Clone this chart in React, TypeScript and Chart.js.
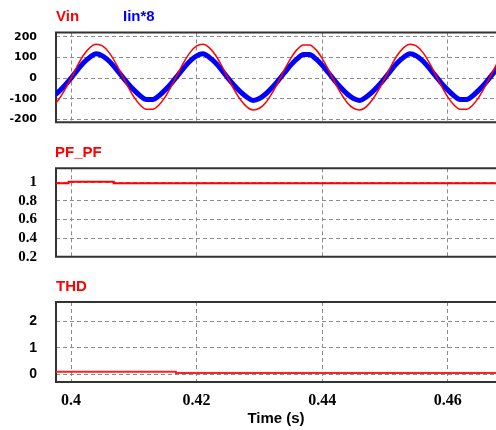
import React, { useEffect, useRef } from 'react';
import { Chart, registerables } from 'chart.js';

Chart.register(...registerables);

// ---- data ----
const time = [
  0.397, 0.398, 0.399, 0.4, 0.401, 0.402, 0.403, 0.404, 0.405, 0.406, 0.407, 0.408,
  0.409, 0.41, 0.411, 0.412, 0.413, 0.414, 0.415, 0.416, 0.417, 0.418, 0.419, 0.42,
  0.421, 0.422, 0.423, 0.424, 0.425, 0.426, 0.427, 0.428, 0.429, 0.43, 0.431, 0.432,
  0.433, 0.434, 0.435, 0.436, 0.437, 0.438, 0.439, 0.44, 0.441, 0.442, 0.443, 0.444,
  0.445, 0.446, 0.447, 0.448, 0.449, 0.45, 0.451, 0.452, 0.453, 0.454, 0.455, 0.456,
  0.457, 0.458, 0.459, 0.46, 0.461, 0.462, 0.463, 0.464, 0.465, 0.466, 0.467, 0.468,
];
const vin = [
  -139, -105, -57, 0, 60, 112, 148, 164, 156, 126, 79, 21,
  -38, -91, -130, -151, -151, -130, -91, -38, 21, 79, 126, 156,
  164, 148, 112, 60, 0, -57, -105, -139, -154, -146, -119, -74,
  -19, 41, 96, 138, 161, 161, 138, 96, 41, -19, -74, -119,
  -146, -154, -139, -105, -57, 0, 60, 112, 148, 164, 156, 126,
  79, 21, -38, -91, -130, -151, -151, -130, -91, -38, 21, 79,
];
const iin8 = [
  -92, -67, -36, 0, 39, 74, 101, 118, 108, 84, 51, 13,
  -24, -57, -85, -104, -104, -85, -57, -24, 13, 51, 84, 108,
  118, 101, 74, 39, 0, -36, -67, -92, -108, -99, -77, -47,
  -12, 26, 63, 93, 114, 114, 93, 63, 26, -12, -47, -77,
  -99, -108, -92, -67, -36, 0, 39, 74, 101, 118, 108, 84,
  51, 13, -24, -57, -85, -104, -104, -85, -57, -24, 13, 51,
];
const pfTime = [0.3976, 0.3996, 0.4068, 0.4677];
const pfValues = [0.99, 1.005, 0.99, 0.99];
const thdTime = [0.3976, 0.4167, 0.4677];
const thdValues = [0.1, 0.05, 0.05];

const xTicks = [0.4, 0.42, 0.44, 0.46];
const xTickLabels = ['0.4', '0.42', '0.44', '0.46'];
const vTicks = [-200, -100, 0, 100, 200];
const pfTicks = [0.2, 0.4, 0.6, 0.8, 1];
const pfTickLabels = ['0.2', '0.4', '0.6', '0.8', '1'];
const thdTicks = [0, 0.5, 1, 1.5, 2, 2.5];
const thdTickLabels = ['0', '', '1', '', '2', ''];

const X_MIN = 0.3976;
const X_MAX = 0.4677;
const W = 496;
const GRID = '#8c8c8c';

const framePlugin = {
  id: 'frame',
  beforeDatasetsDraw(chart: any) {
    const { ctx, chartArea: a } = chart;
    ctx.save();
    ctx.strokeStyle = '#333333';
    ctx.lineWidth = 2;
    ctx.beginPath();
    ctx.moveTo(a.right + 2, a.top);
    ctx.lineTo(a.left, a.top);
    ctx.lineTo(a.left, a.bottom);
    ctx.lineTo(a.right + 2, a.bottom);
    ctx.stroke();
    ctx.restore();
  },
};

type Panel = {
  height: number;
  padTop: number;
  padBottom: number;
  xHeight: number;
  showX: boolean;
  yMin: number;
  yMax: number;
  yTicks: number[];
  yLabels: string[];
  yFont: any;
  datasets: any[];
};

function buildConfig(p: Panel): any {
  return {
    type: 'line',
    data: { datasets: p.datasets },
    options: {
      animation: false,
      responsive: false,
      maintainAspectRatio: false,
      devicePixelRatio: 1,
      layout: { padding: { top: p.padTop, bottom: p.padBottom, left: 0, right: 0 } },
      plugins: { legend: { display: false }, tooltip: { enabled: false }, title: { display: false } },
      elements: { point: { radius: 0 } },
      scales: {
        x: {
          type: 'linear',
          min: X_MIN,
          max: X_MAX,
          afterBuildTicks: (s: any) => {
            s.ticks = xTicks.map((v) => ({ value: v }));
          },
          afterFit: (s: any) => {
            s.height = p.xHeight;
          },
          grid: { color: GRID, lineWidth: 1, drawTicks: false },
          border: { display: false, dash: [4, 3] },
          ticks: {
            display: p.showX,
            padding: 9,
            color: '#000',
            font: { family: '"Liberation Serif", serif', size: 16, weight: 'bold' },
            callback: (_v: any, i: number) => xTickLabels[i],
          },
          title: {
            display: p.showX,
            text: 'Time (s)',
            color: '#000',
            font: { family: '"Liberation Sans", Arial, sans-serif', size: 15, weight: 'bold' },
            padding: { top: 0, bottom: 2 },
          },
        },
        y: {
          type: 'linear',
          min: p.yMin,
          max: p.yMax,
          afterBuildTicks: (s: any) => {
            s.ticks = p.yTicks.map((v) => ({ value: v }));
          },
          afterFit: (s: any) => {
            s.width = 56;
          },
          grid: { color: GRID, lineWidth: 1, drawTicks: false },
          border: { display: false, dash: [4, 3] },
          ticks: {
            padding: 19,
            color: '#000',
            font: p.yFont,
            callback: (_v: any, i: number) => p.yLabels[i],
          },
        },
      },
    },
    plugins: [framePlugin],
  };
}

function ChartCanvas({ panel, top }: { panel: Panel; top: number }) {
  const ref = useRef<HTMLCanvasElement | null>(null);
  useEffect(() => {
    if (!ref.current) return;
    const chart = new Chart(ref.current, buildConfig(panel));
    return () => chart.destroy();
  }, []);
  return (
    <canvas
      ref={ref}
      width={W}
      height={panel.height}
      style={{ position: 'absolute', left: 0, top, width: W, height: panel.height, display: 'block' }}
    />
  );
}

const topPanel: Panel = {
  height: 148,
  padTop: 32.5,
  padBottom: 25.7,
  xHeight: 0,
  showX: false,
  yMin: -214,
  yMax: 221,
  yTicks: vTicks,
  yLabels: vTicks.map(String),
  yFont: { family: '"DejaVu Sans", sans-serif', size: 11, weight: 'bold' },
  datasets: [
    {
      label: 'Vin',
      data: time.map((t, i) => ({ x: t, y: vin[i] })),
      borderColor: '#ff0000',
      borderWidth: 1.5,
      cubicInterpolationMode: 'monotone',
      fill: false,
    },
    {
      label: 'Iin*8',
      data: time.map((t, i) => ({ x: t, y: iin8[i] })),
      borderColor: '#0000ff',
      borderWidth: 5,
      cubicInterpolationMode: 'monotone',
      fill: false,
    },
  ],
};

const pfPanel: Panel = {
  height: 146,
  padTop: 28.3,
  padBottom: 29.3,
  xHeight: 0,
  showX: false,
  yMin: 0.2,
  yMax: 1.15,
  yTicks: pfTicks,
  yLabels: pfTickLabels,
  yFont: { family: '"Liberation Serif", serif', size: 15, weight: 'bold' },
  datasets: [
    {
      label: 'PF_PF',
      data: pfTime.map((t, i) => ({ x: t, y: pfValues[i] })),
      borderColor: '#ff0000',
      borderWidth: 2,
      stepped: true,
      fill: false,
    },
  ],
};

const thdPanel: Panel = {
  height: 160,
  padTop: 32,
  padBottom: 0,
  xHeight: 48,
  showX: true,
  yMin: -0.29,
  yMax: 2.74,
  yTicks: thdTicks,
  yLabels: thdTickLabels,
  yFont: { family: '"Liberation Sans", Arial, sans-serif', size: 14, weight: 'bold' },
  datasets: [
    {
      label: 'THD',
      data: thdTime.map((t, i) => ({ x: t, y: thdValues[i] })),
      borderColor: '#ff2020',
      borderWidth: 2,
      stepped: true,
      fill: false,
    },
  ],
};

const titleStyle = (left: number, top: number, color: string): React.CSSProperties => ({
  position: 'absolute',
  left,
  top,
  color,
  font: 'bold 15px "Liberation Sans", Arial, sans-serif',
  lineHeight: '15px',
  whiteSpace: 'nowrap',
});

export default function App() {
  return (
    <div
      style={{
        position: 'absolute',
        left: 0,
        top: 0,
        width: W,
        height: 430,
        overflow: 'hidden',
        background: '#fff',
      }}
    >
      <ChartCanvas panel={topPanel} top={0} />
      <ChartCanvas panel={pfPanel} top={140} />
      <ChartCanvas panel={thdPanel} top={270} />
      <div style={titleStyle(56, 8, '#ff0000')}>Vin</div>
      <div style={titleStyle(123, 8, '#0000ff')}>Iin*8</div>
      <div style={titleStyle(55, 143.8, '#ff0000')}>PF_PF</div>
      <div style={titleStyle(56, 278, '#ff0000')}>THD</div>
    </div>
  );
}
